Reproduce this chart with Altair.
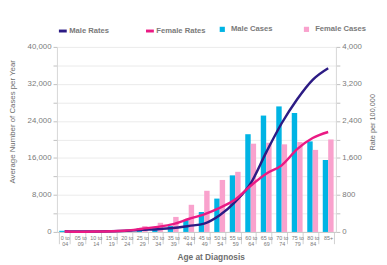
import altair as alt
import pandas as pd

ages = ["0 to 04", "05 to 09", "10 to 14", "15 to 19", "20 to 24", "25 to 29",
        "30 to 34", "35 to 39", "40 to 44", "45 to 49", "50 to 54", "55 to 59",
        "60 to 64", "65 to 69", "70 to 74", "75 to 79", "80 to 84", "85+"]

male_cases = [250, 40, 40, 60, 150, 780, 900, 1270, 2540, 4310, 7210, 12230,
              21130, 25160, 27140, 25720, 19580, 15550]
female_cases = [60, 30, 60, 150, 350, 1270, 1980, 3250, 5870, 8900, 11240, 13000,
                19080, 19290, 18940, 19430, 17740, 20000]

male_rates = [15, 8, 10, 15, 25, 45, 60, 85, 130, 180, 360, 650,
              1050, 1720, 2350, 2870, 3290, 3540]
female_rates = [10, 5, 8, 15, 30, 70, 110, 170, 280, 380, 520, 700,
                1000, 1260, 1440, 1790, 2030, 2160]

case_series = ["Male Cases", "Female Cases"]
rate_series = ["Male Rates", "Female Rates"]
case_colors = ["#00b4e4", "#f9a2cd"]
rate_colors = ["#2c1b84", "#ea1a84"]

cases_df = pd.DataFrame({
    "Age": ages * 2,
    "Series": [case_series[0]] * len(ages) + [case_series[1]] * len(ages),
    "Cases": male_cases + female_cases,
})
rates_df = pd.DataFrame({
    "Age": ages * 2,
    "Series": [rate_series[0]] * len(ages) + [rate_series[1]] * len(ages),
    "Rate": male_rates + female_rates,
})

FONT = "Liberation Sans"
GREY = "#7a7a7a"

x_enc = alt.X(
    "Age:N", sort=ages,
    scale=alt.Scale(paddingInner=0.3, paddingOuter=0.15),
    axis=alt.Axis(
        title="Age at Diagnosis",
        labelAngle=0,
        labelFontSize=5.5,
        labelColor=GREY,
        labelLineHeight=6,
        labelOverlap=False,
        labelExpr="indexof(datum.label,' to ') > 0 ? [slice(datum.label, 0, indexof(datum.label,' to ')+3), slice(datum.label, indexof(datum.label,' to ')+4)] : datum.label",
        labelPadding=-8,
        tickBand="extent",
        tickSize=12,
        tickColor="#d0d0d0",
        domainColor="#c8c8c8",
        titleFontSize=8.5,
        titleFontWeight="bold",
        titleColor="#6e6e6e",
        titleX=157,
        titleY=25.5,
        titleBaseline="middle",
        titleAlign="center",
    ),
)

bars = alt.Chart(cases_df).mark_bar().encode(
    x=x_enc,
    xOffset=alt.XOffset("Series:N", sort=case_series, scale=alt.Scale(paddingInner=0, paddingOuter=0)),
    y=alt.Y(
        "Cases:Q",
        scale=alt.Scale(domain=[0, 40000], nice=False),
        axis=alt.Axis(
            title="Average Number of Cases per Year",
            values=list(range(0, 40001, 4000)),
            labelExpr="datum.value % 8000 == 0 ? format(datum.value, ',') : ''",
            labelFontSize=8,
            labelColor=GREY,
            labelPadding=2,
            tickSize=4,
            tickColor="#c0c0c0",
            domainColor="#d6d6d6",
            gridColor="#ebebeb",
            titleFontSize=8,
            titleFontWeight="normal",
            titleColor="#6e6e6e",
            titleAngle=270,
            titleX=-45.5,
            titleY=76,
            titleAlign="center",
            titleBaseline="middle",
        ),
    ),
    color=alt.Color(
        "Series:N",
        scale=alt.Scale(domain=case_series, range=case_colors),
        legend=alt.Legend(
            title=None, orient="none", direction="horizontal",
            legendX=165, legendY=-22,
            symbolType="square", symbolSize=28, labelOffset=5,
            columnPadding=30, labelFontSize=7.8, labelFontWeight="bold",
            labelColor=GREY, symbolStrokeWidth=0,
        ),
    ),
)

lines = alt.Chart(rates_df).mark_line(strokeWidth=2.5, interpolate="monotone").encode(
    x=alt.X("Age:N", sort=ages),
    y=alt.Y(
        "Rate:Q",
        scale=alt.Scale(domain=[0, 4000], nice=False),
        axis=alt.Axis(
            orient="right",
            title="Rate per 100,000",
            values=list(range(0, 4001, 400)),
            labelExpr="datum.value % 800 == 0 ? format(datum.value, ',') : ''",
            labelFontSize=8,
            labelColor=GREY,
            labelPadding=2,
            tickSize=4,
            tickColor="#c0c0c0",
            domainColor="#d6d6d6",
            grid=False,
            titleFontSize=7.5,
            titleFontWeight="normal",
            titleColor="#6e6e6e",
            titleAngle=270,
            titleX=37,
            titleY=76.5,
            titleAlign="center",
            titleBaseline="middle",
        ),
    ),
    color=alt.Color(
        "Series:N",
        scale=alt.Scale(domain=rate_series, range=rate_colors),
        legend=alt.Legend(
            title=None, orient="none", direction="horizontal",
            legendX=0.5, legendY=-22,
            symbolType="stroke", symbolSize=64, symbolStrokeWidth=3,
            labelOffset=1, columnPadding=31, labelFontSize=7.8,
            labelFontWeight="bold", labelColor=GREY,
        ),
    ),
)

chart = alt.layer(bars, lines).resolve_scale(
    y="independent", color="independent"
).properties(
    width=285, height=189,
    autosize=alt.AutoSizeParams(type="none"),
    padding={"left": 50, "top": 37, "right": 44, "bottom": 31},
).configure(
    font=FONT,
).configure_view(
    stroke=None,
)

chart.save("out.html", embed_options={"renderer": "svg", "actions": False})
